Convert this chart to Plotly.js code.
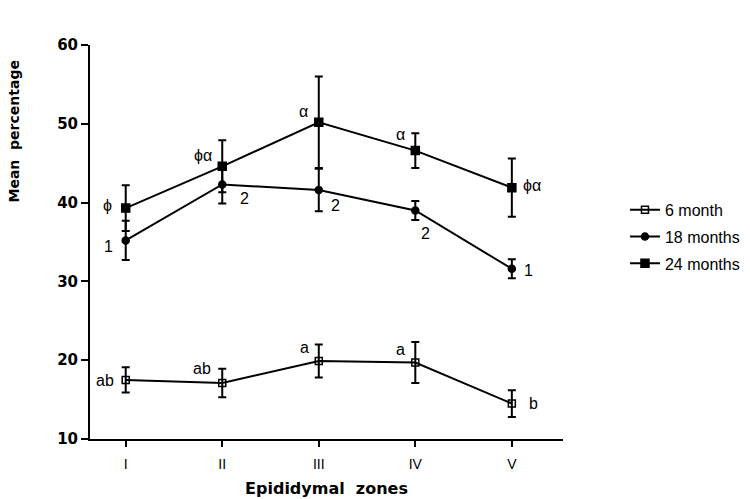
<!DOCTYPE html>
<html><head><meta charset="utf-8">
<script src="https://cdn.plot.ly/plotly-3.0.1.min.js"></script>
<style>html,body{margin:0;padding:0;background:#fff}</style>
</head><body><div id="chart" style="width:750px;height:499px"></div>
<script>
const zones = [1, 2, 3, 4, 5];
const zoneLabels = ["I", "II", "III", "IV", "V"];
const seriesNames = ["6 month", "18 months", "24 months"];
const m6 = [17.5, 17.1, 19.9, 19.7, 14.5];
const m6err = [1.6, 1.8, 2.1, 2.6, 1.7];
const m18 = [35.2, 42.3, 41.6, 39.0, 31.6];
const m18err = [2.5, 2.4, 2.7, 1.2, 1.2];
const m24 = [39.3, 44.6, 50.2, 46.6, 41.9];
const m24err = [2.9, 3.3, 5.8, 2.2, 3.7];
const lab6 = ["ab", "ab", "a", "a", "b"];
const lab18 = ["1", "2", "2", "2", "1"];
const lab24 = ["ϕ", "ϕα", "α", "α", "ϕα"];

const FONT = 'Liberation Sans, Arial, sans-serif';
const BOLD = 'DejaVu Sans, Liberation Sans, sans-serif';

function trace(y, e, name, symbol, size, group) {
  return {
    x: zones, y: y, name: name, type: 'scatter', mode: 'lines+markers',
    legendgroup: group,
    line: {color: '#000', width: 2},
    marker: {symbol: symbol, size: size, color: '#000', line: {color: '#000', width: 1.5}},
    error_y: {type: 'data', array: e, visible: true, color: '#000', thickness: 2, width: 4}
  };
}
const data = [
  trace(m6, m6err, seriesNames[0], 'square-open', 7, 'g1'),
  trace(m18, m18err, seriesNames[1], 'circle', 7, 'g2'),
  trace(m24, m24err, seriesNames[2], 'square', 8, 'g3')
];

const annFont = {family: FONT, size: 16, color: '#000'};
const anns = [];
function addLabels(labels, ys, offs) {
  labels.forEach((t, i) => anns.push({x: zones[i], y: ys[i], text: t, showarrow: false,
    xref: 'x', yref: 'y', xshift: offs[i][0], yshift: -offs[i][1], font: annFont}));
}
addLabels(lab24, m24, [[-18, -3], [-19, -11], [-15, -11], [-15, -16], [20, -2]]);
addLabels(lab18, m18, [[-17, 6], [22, 14], [17, 16], [10, 23], [17, 2]]);
addLabels(lab6, m6, [[-21, 1], [-20, -15], [-14, -13], [-15, -13], [22, 0]]);
anns.push({xref: 'paper', yref: 'paper', x: -0.161, y: 0.78, xanchor: 'center', yanchor: 'middle',
  text: '<b>Mean  percentage</b>', textangle: -90, showarrow: false,
  font: {family: BOLD, size: 14, color: '#000'}});

const layout = {
  width: 750, height: 499,
  margin: {l: 90, r: 187, t: 45, b: 60, autoexpand: false},
  paper_bgcolor: '#fff', plot_bgcolor: '#fff',
  showlegend: true,
  legend: {x: 1.131, y: 0.625, xanchor: 'left', yanchor: 'top', traceorder: 'grouped', tracegroupgap: 3,
    font: {family: FONT, size: 16, color: '#000'}},
  xaxis: {
    range: [0.63, 5.53], tickvals: zones, ticktext: zoneLabels,
    showgrid: false, zeroline: false, showline: true, linecolor: '#000', linewidth: 2,
    ticks: 'outside', ticklen: 6, tickwidth: 2, tickcolor: '#000', ticklabelstandoff: 5,
    tickfont: {family: FONT, size: 14, color: '#000'},
    title: {text: '<b>Epididymal  zones</b>', standoff: 12, font: {family: BOLD, size: 16, color: '#000'}}
  },
  yaxis: {
    range: [10, 60], tickvals: [10, 20, 30, 40, 50, 60],
    showgrid: false, zeroline: false, showline: true, linecolor: '#000', linewidth: 2,
    ticks: 'outside', ticklen: 7, tickwidth: 2, tickcolor: '#000',
    tickfont: {family: BOLD, size: 15, color: '#000', weight: 'bold'}
  },
  annotations: anns
};
Plotly.newPlot('chart', data, layout, {displayModeBar: false});
</script></body></html>
